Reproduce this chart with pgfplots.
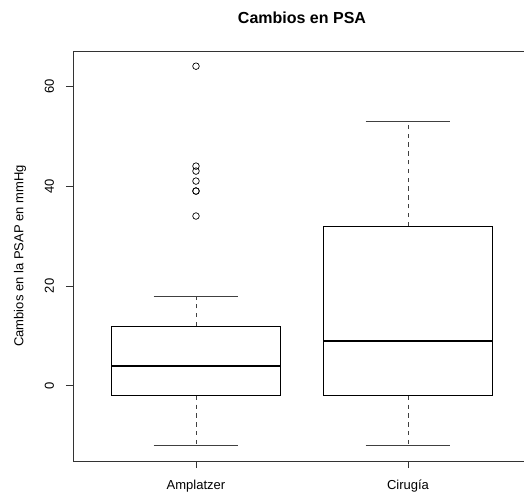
\documentclass[border=0pt]{standalone}
\usepackage{pgfplots}
\pgfplotsset{compat=1.18}
\usepgfplotslibrary{statistics}
\usepackage{fontspec}
\setmainfont{Liberation Sans}
\begin{document}
\begin{tikzpicture}[x=1pt,y=1pt]
\begin{axis}[
  at={(0,0)}, anchor=south west,
  scale only axis, width=458pt, height=410pt,
  xmin=0.42, xmax=2.58, ymin=-15.04, ymax=67.04,
  xtick={1,2}, xticklabels={Amplatzer,Cirugía},
  ytick={0,20,40,60},
  xtick pos=bottom, ytick pos=left,
  tick align=outside, major tick length=7pt,
  tick style={black!80, line width=0.8pt},
  axis line style={line width=0.8pt, black!80},
  font=\fontsize{13}{15}\selectfont,
  /pgf/number format/assume math mode=true,
  yticklabel style={rotate=90, anchor=south, inner sep=0pt},
  xticklabel style={anchor=north, inner sep=0pt},
  yticklabel shift=11.7pt,
  xticklabel shift=12pt,
  clip=false,
  boxplot/draw direction=y,
  boxplot/box extend=0.8,
  boxplot/whisker extend=0.4,
  boxplot/every box/.style={draw=black, line width=0.8pt},
  boxplot/every median/.style={draw=black, line width=2.6pt},
  boxplot/draw/lower whisker/.code={%
    \draw[black!75, line width=0.8pt, dash pattern=on 4.4pt off 4.4pt]
      (boxplot box cs:\pgfplotsboxplotvalue{lower quartile},0.5) --
      (boxplot box cs:\pgfplotsboxplotvalue{lower whisker},0.5);
    \draw[black!75, line width=0.8pt]
      (boxplot whisker cs:\pgfplotsboxplotvalue{lower whisker},0) --
      (boxplot whisker cs:\pgfplotsboxplotvalue{lower whisker},1);
  },
  boxplot/draw/upper whisker/.code={%
    \draw[black!75, line width=0.8pt, dash pattern=on 4.4pt off 4.4pt]
      (boxplot box cs:\pgfplotsboxplotvalue{upper quartile},0.5) --
      (boxplot box cs:\pgfplotsboxplotvalue{upper whisker},0.5);
    \draw[black!75, line width=0.8pt]
      (boxplot whisker cs:\pgfplotsboxplotvalue{upper whisker},0) --
      (boxplot whisker cs:\pgfplotsboxplotvalue{upper whisker},1);
  },
]
\addplot[black, mark=o, mark size=3.3pt, mark options={line width=0.7pt},
  boxplot prepared={draw position=1,
    lower whisker=-12, lower quartile=-2, median=4,
    upper quartile=12, upper whisker=18}]
  coordinates {(0,34) (0,39) (0,39) (0,41) (0,43) (0,44) (0,64)};
\addplot[black, mark=o, mark size=3.3pt,
  boxplot prepared={draw position=2,
    lower whisker=-12, lower quartile=-2, median=9,
    upper quartile=32, upper whisker=53}]
  coordinates {};
\end{axis}
\node[anchor=base, font=\fontsize{16}{19}\selectfont\bfseries] at (229,437.7) {Cambios en PSA};
\node[anchor=base, rotate=90, font=\fontsize{13}{15}\selectfont] at (-49.7,205) {Cambios en la PSAP en mmHg};
\pgfresetboundingbox
\path (-73,-32) rectangle (451,461);
\end{tikzpicture}
\end{document}
